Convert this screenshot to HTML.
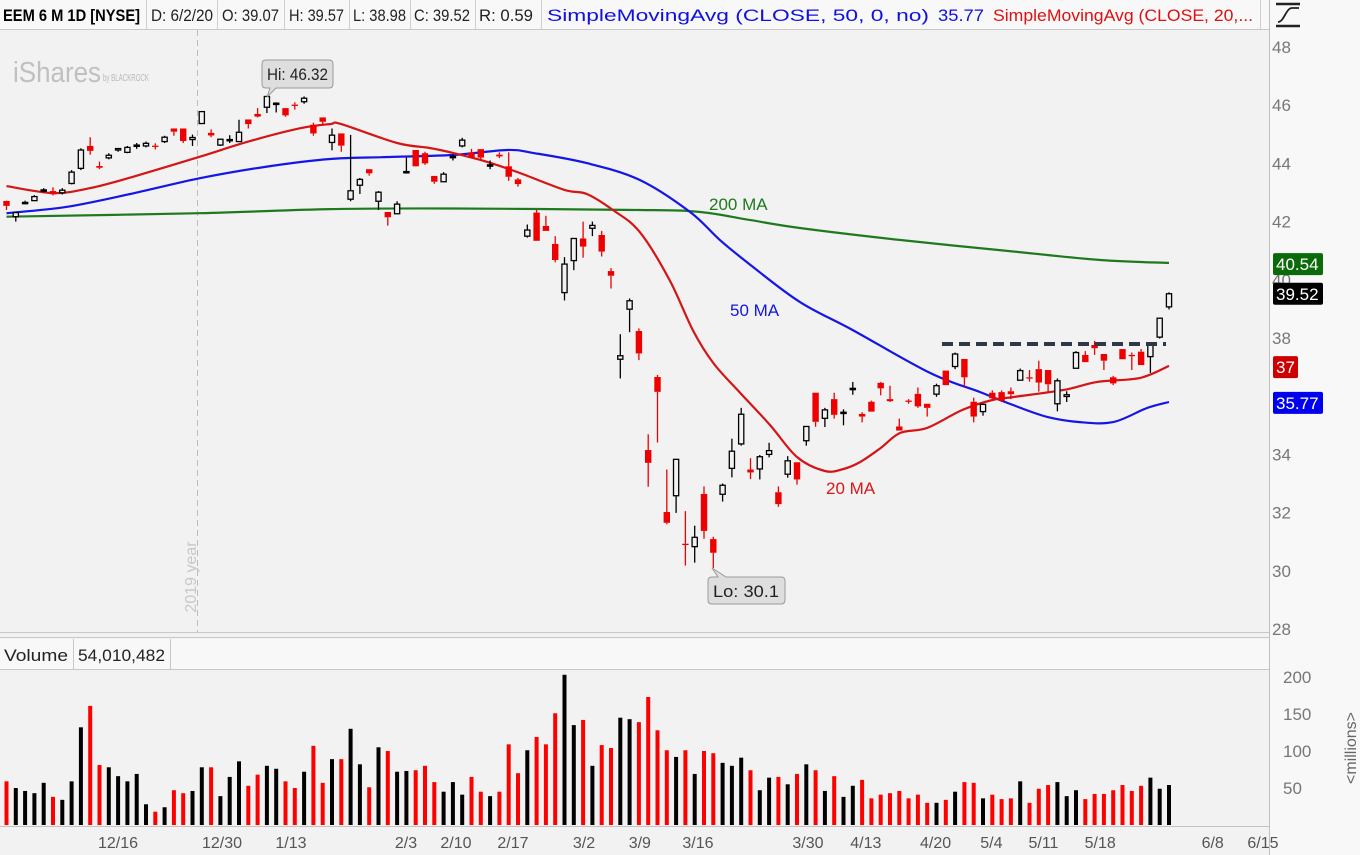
<!DOCTYPE html>
<html><head><meta charset="utf-8"><style>
html,body{margin:0;padding:0;background:#f2f2f2;}
svg{display:block;font-family:"Liberation Sans",Arial,sans-serif;}
</style></head><body>
<svg id="chart" width="1360" height="855" viewBox="0 0 1360 855" xmlns="http://www.w3.org/2000/svg">
<rect x="0" y="0" width="1360" height="855" fill="#f2f2f2"/>
<rect x="1269" y="0" width="91" height="855" fill="#f8f8f8"/>
<g>
<rect x="0" y="0" width="1269" height="29" fill="#f8f8f8"/>
<line x1="0" y1="29.5" x2="1269" y2="29.5" stroke="#c8c8c8"/>
<text x="3" y="21" font-size="17" font-weight="bold" textLength="137" lengthAdjust="spacingAndGlyphs">EEM 6 M 1D [NYSE]</text>
<text x="151" y="21" font-size="17" fill="#222" textLength="62" lengthAdjust="spacingAndGlyphs">D: 6/2/20</text>
<text x="222" y="21" font-size="17" fill="#222" textLength="57" lengthAdjust="spacingAndGlyphs">O: 39.07</text>
<text x="289" y="21" font-size="17" fill="#222" textLength="55" lengthAdjust="spacingAndGlyphs">H: 39.57</text>
<text x="353" y="21" font-size="17" fill="#222" textLength="53" lengthAdjust="spacingAndGlyphs">L: 38.98</text>
<text x="414" y="21" font-size="17" fill="#222" textLength="56" lengthAdjust="spacingAndGlyphs">C: 39.52</text>
<text x="479" y="21" font-size="17" fill="#222" textLength="54" lengthAdjust="spacingAndGlyphs">R: 0.59</text>
<text x="547" y="21" font-size="17" fill="#1010e0" textLength="382" lengthAdjust="spacingAndGlyphs">SimpleMovingAvg (CLOSE, 50, 0, no)</text>
<text x="938" y="21" font-size="17" fill="#1010e0" textLength="46" lengthAdjust="spacingAndGlyphs">35.77</text>
<text x="993" y="21" font-size="17" fill="#dd1111" textLength="260" lengthAdjust="spacingAndGlyphs">SimpleMovingAvg (CLOSE, 20,...</text>
<g stroke="#d0d0d0"><line x1="146.5" y1="0" x2="146.5" y2="29"/><line x1="217.5" y1="0" x2="217.5" y2="29"/><line x1="284.5" y1="0" x2="284.5" y2="29"/><line x1="349.5" y1="0" x2="349.5" y2="29"/><line x1="410.5" y1="0" x2="410.5" y2="29"/><line x1="475.5" y1="0" x2="475.5" y2="29"/><line x1="541.5" y1="0" x2="541.5" y2="29"/><line x1="1260.5" y1="0" x2="1260.5" y2="29"/></g>
</g>
<g stroke="#222" stroke-width="2.5" fill="none">
<line x1="1276" y1="4" x2="1300" y2="4"/><line x1="1276" y1="26" x2="1300" y2="26"/>
<path d="M1278 22 C1284 22 1286 8 1292 8 L1299 8" stroke-width="1.8"/>
</g>
<line x1="1269.5" y1="0" x2="1269.5" y2="855" stroke="#c0c0c0"/>
<line x1="0" y1="632.5" x2="1269" y2="632.5" stroke="#c8c8c8"/>
<line x1="0" y1="637.5" x2="1269" y2="637.5" stroke="#c8c8c8"/>
<g>
<rect x="0" y="639" width="1269" height="30" fill="#f8f8f8"/>
<line x1="0" y1="669.5" x2="1269" y2="669.5" stroke="#c8c8c8"/>
<line x1="73.5" y1="639" x2="73.5" y2="669" stroke="#c8c8c8"/>
<line x1="170.5" y1="639" x2="170.5" y2="669" stroke="#c8c8c8"/>
<text x="4" y="661" font-size="17" fill="#222" textLength="64" lengthAdjust="spacingAndGlyphs">Volume</text>
<text x="78" y="661" font-size="17" fill="#222" textLength="87" lengthAdjust="spacingAndGlyphs">54,010,482</text>
</g>
<g>
<text x="13" y="82" font-size="29" textLength="88" lengthAdjust="spacingAndGlyphs" fill="#c0c0c0">iShares</text>
<text x="103" y="81" font-size="10" textLength="46" lengthAdjust="spacingAndGlyphs" fill="#b8b8b8">by BLACKROCK</text>
</g>
<line x1="197.5" y1="30" x2="197.5" y2="632" stroke="#bcbcbc" stroke-dasharray="6,4"/>
<text transform="translate(196,577) rotate(-90)" text-anchor="middle" font-size="16" fill="#c8c8c8">2019 year</text>
<g id="priceAxis"></g>
<g id="volAxis"></g>
<g id="xAxis"></g>
<g id="maLines"></g>
<g id="candles"></g>
<g id="volumes"></g>
<line x1="942" y1="344" x2="1166" y2="344" stroke="#2e3846" stroke-width="4" stroke-dasharray="11,6"/>
<text x="709" y="210" font-size="17" fill="#1d7a1d">200 MA</text>
<text x="730" y="316" font-size="17" fill="#1515e0">50 MA</text>
<text x="826" y="494" font-size="17" fill="#e01515">20 MA</text>
<g>
<path d="M266 60 H329 Q333 60 333 64 V84 Q333 88 329 88 H276 L267 97 L270 88 H266 Q262 88 262 84 V64 Q262 60 266 60 Z" fill="#dedede" stroke="#9a9a9a"/>
<text x="267" y="80" font-size="17" fill="#222" textLength="61" lengthAdjust="spacingAndGlyphs">Hi: 46.32</text>
</g>
<g>
<path d="M712 577 H718 L712 568 L726 577 H781 Q785 577 785 581 V600 Q785 604 781 604 H712 Q708 604 708 600 V581 Q708 577 712 577 Z" fill="#dedede" stroke="#9a9a9a"/>
<text x="713" y="597" font-size="17" fill="#222" textLength="66" lengthAdjust="spacingAndGlyphs">Lo: 30.1</text>
</g>
<g id="tags"></g>
<text transform="translate(1356,748) rotate(-90)" text-anchor="middle" font-size="16" fill="#666">&lt;millions&gt;</text>
</svg>
<script>
const opens=[42.71,42.17,42.66,42.72,43.09,43.05,42.99,43.31,43.83,44.60,43.91,44.19,44.46,44.38,44.60,44.60,44.61,44.75,45.20,45.20,44.82,45.37,45.05,44.63,44.80,44.75,45.51,45.70,45.93,46.05,45.90,46.02,46.12,45.33,45.58,44.72,45.03,42.77,43.25,43.80,42.70,42.33,42.27,43.70,44.46,44.35,43.57,43.37,44.22,44.60,44.38,44.49,43.92,44.30,43.90,43.45,41.50,42.31,41.85,41.23,39.56,40.66,41.42,41.77,41.54,40.30,37.27,38.99,38.24,34.15,36.66,32.02,32.58,30.93,30.83,32.64,31.09,32.63,33.52,34.36,33.48,33.50,34.00,32.70,33.32,33.73,34.47,36.12,35.24,35.90,35.43,36.25,35.39,35.81,36.46,35.90,34.96,35.85,36.08,35.74,36.07,36.88,37.02,37.28,35.81,35.47,36.12,36.14,36.17,36.55,36.65,36.93,36.90,35.74,35.99,36.96,37.42,37.76,37.45,36.65,37.62,37.42,37.53,37.36,38.03,39.07];
const highs=[42.72,42.33,42.72,42.91,43.15,43.18,43.15,43.77,44.52,44.90,44.06,44.35,44.51,44.60,44.70,44.75,44.69,44.95,45.20,45.20,44.99,45.78,45.17,44.85,44.97,45.50,45.51,45.90,46.32,46.10,45.90,46.10,46.30,45.40,45.58,45.20,45.03,44.98,43.50,43.80,43.05,42.33,42.70,44.20,44.46,44.40,43.57,43.70,44.30,44.88,44.50,44.49,44.10,44.38,44.38,43.50,41.90,42.40,42.20,41.50,40.78,41.42,42.00,42.00,41.68,40.40,38.13,39.36,38.33,34.69,36.73,33.48,33.83,32.05,31.55,32.90,31.17,33.00,34.54,35.60,33.87,33.98,34.40,32.90,33.94,33.73,34.96,36.12,35.60,36.12,35.55,36.49,35.45,35.85,36.49,36.36,35.23,35.90,36.30,35.74,36.43,36.88,37.50,37.28,35.95,35.72,36.20,36.20,36.30,36.95,36.90,37.22,36.90,36.61,36.17,37.55,37.55,37.90,37.45,36.70,37.62,37.50,37.62,37.76,38.70,39.57];
const lows=[42.40,42.00,42.60,42.72,43.00,42.90,42.93,43.28,43.77,44.30,43.80,44.14,44.40,44.35,44.50,44.55,44.48,44.70,44.95,44.70,44.60,45.37,44.90,44.60,44.70,44.74,45.20,45.58,45.73,45.75,45.60,45.85,46.05,44.95,45.30,44.45,44.40,42.70,42.95,43.58,42.40,41.86,42.27,43.65,43.90,43.95,43.30,43.37,44.10,44.55,44.20,44.10,43.80,44.18,43.40,43.20,41.45,41.34,41.68,40.60,39.29,40.33,40.76,41.50,40.80,39.70,36.61,38.20,37.24,32.89,34.41,31.60,31.99,30.18,30.28,31.10,30.10,32.38,33.21,34.30,33.15,33.14,33.90,32.20,33.20,32.96,34.30,34.95,34.94,35.23,35.00,36.05,35.10,35.47,36.03,35.80,34.82,35.74,35.60,35.30,35.98,36.38,36.93,36.33,35.10,35.33,35.84,35.80,35.90,36.55,36.50,36.16,36.16,35.48,35.80,36.96,37.17,37.42,36.90,36.38,37.27,36.90,37.07,36.80,37.98,38.98];
const closes=[42.54,42.31,42.66,42.86,43.09,42.94,43.08,43.70,44.46,44.43,43.85,44.28,44.51,44.55,44.63,44.69,44.59,44.90,45.09,44.77,44.89,45.78,44.96,44.83,44.82,45.07,45.35,45.61,46.30,46.07,45.65,45.98,46.24,45.03,45.43,44.97,44.61,43.06,43.45,43.66,43.01,42.15,42.60,43.72,43.90,44.00,43.37,43.63,44.24,44.80,44.20,44.20,43.95,44.24,43.54,43.29,41.71,41.34,41.68,40.68,40.54,41.42,41.14,41.87,40.97,40.14,37.39,39.28,37.47,33.71,36.15,31.65,33.83,30.90,31.15,31.37,30.62,32.94,34.11,35.38,33.38,33.92,34.13,32.29,33.78,33.14,34.96,35.12,35.53,35.36,35.45,36.27,35.30,35.47,36.27,35.83,34.82,35.81,35.65,35.60,36.36,36.38,37.45,36.65,35.30,35.72,35.93,35.84,36.07,36.88,36.62,36.47,36.41,36.53,36.05,37.50,37.17,37.65,37.22,36.44,37.27,37.40,37.07,37.76,38.68,39.52];
const volumes=[59,50,46,43,57,38,34,59,132,161,81,78,66,59,69,28,18,24,47,43,46,78,78,39,65,86,53,68,80,76,59,50,72,107,57,89,89,130,82,51,105,100,72,73,74,80,58,45,58,41,65,45,39,45,109,70,101,119,109,151,203,135,142,80,108,104,145,143,139,173,128,101,92,101,69,100,97,84,80,91,74,47,64,65,55,69,82,74,46,66,38,53,61,36,41,43,46,36,41,30,30,34,45,58,57,36,41,35,36,59,30,49,54,58,39,47,35,42,42,47,54,46,53,64,49,54];
const ma20Idx=[0,5,9,13.6,20.8,26,31.6,34.8,36,42,45.5,48,51.7,55.2,60,62.4,65.2,68.1,71.3,73.8,76,78.9,82.1,85,88,90,91.8,94,96.1,99,102.8,106,108.2,113.6,117.3,121.9,125];
const ma20Val=[43.22,42.98,43.15,43.54,44.23,44.75,45.21,45.35,45.35,44.70,44.53,44.36,44.05,43.67,43.09,42.95,42.40,41.64,39.99,38.27,37.14,36.11,35.01,33.91,33.43,33.50,33.74,34.22,34.74,34.91,35.53,35.87,35.97,36.21,36.49,36.63,37.04];
const ma50Idx=[0,6.5,13.6,20.8,28,34.8,41,48,53.8,56.6,62.4,68.1,73.5,76.7,80,85.3,91,99.3,104.7,108.2,111.9,115.4,119,122.6,125];
const ma50Val=[42.29,42.51,42.97,43.49,43.89,44.15,44.22,44.29,44.46,44.36,44.01,43.43,42.33,41.37,40.51,39.24,38.27,36.80,36.14,35.70,35.29,35.11,35.11,35.59,35.80];
const ma200Idx=[0,20.8,34.8,48,68.1,74.6,80,85.3,96,106.8,117.6,125];
const ma200Val=[42.17,42.29,42.43,42.45,42.40,42.33,42.05,41.78,41.37,41.02,40.68,40.58];
const priceTicks=[48,46,44,42,40,38,36,34,32,30,28];
const volTicks=[200,150,100,50];
const dateLabels=["12/16","12/30","1/13","2/3","2/10","2/17","3/2","3/9","3/16","3/30","4/13","4/20","5/4","5/11","5/18","6/8","6/15"];
const dateIdx=[11.99,23.17,30.59,42.96,48.33,54.46,62.1,68.1,74.35,86.18,92.4,99.9,105.9,111.5,117.6,129.7,135.1];
const tagValues=[40.54,39.52,37,35.77];
const tagLabels=["40.54","39.52","37","35.77"];
const tagColors=["#0b6b0b","#000000","#cc0000","#0000ee"];

const NS="http://www.w3.org/2000/svg";
const xOf=i=>6.5+9.3*i;
const yP=p=>47+(48-p)*29.1;
const yV=v=>825-v*0.74;
function mk(tag,attrs,parent){const e=document.createElementNS(NS,tag);for(const k in attrs)e.setAttribute(k,attrs[k]);parent.appendChild(e);return e;}

const pa=document.getElementById('priceAxis');
priceTicks.forEach(t=>{
  if(t===36)return;
  const e=mk('text',{x:1272,y:yP(t)+6,'font-size':17,fill:'#777'},pa);e.textContent=String(t);
  
  
});
const va=document.getElementById('volAxis');
volTicks.forEach(t=>{
  const e=mk('text',{x:1283,y:yV(t)+6,'font-size':17,fill:'#777'},va);e.textContent=String(t);
  
  
});
mk('line',{x1:0,y1:826.5,x2:1269,y2:826.5,stroke:'#c4c4c4'},va);
const xa=document.getElementById('xAxis');
dateLabels.forEach((d,k)=>{
  const e=mk('text',{x:xOf(dateIdx[k]),y:848,'font-size':16,fill:'#555','text-anchor':'middle'},xa);e.textContent=d;
  
  
});
const ml=document.getElementById('maLines');
function line(idx,vals,color,name){
  const P=idx.map((v,k)=>[xOf(v),yP(vals[k])]);
  let d='M'+P[0][0].toFixed(1)+' '+P[0][1].toFixed(1);
  for(let k=0;k<P.length-1;k++){
    const p0=P[Math.max(k-1,0)],p1=P[k],p2=P[k+1],p3=P[Math.min(k+2,P.length-1)];
    const c1=[p1[0]+(p2[0]-p0[0])/6,p1[1]+(p2[1]-p0[1])/6];
    const c2=[p2[0]-(p3[0]-p1[0])/6,p2[1]-(p3[1]-p1[1])/6];
    d+=' C'+c1[0].toFixed(1)+' '+c1[1].toFixed(1)+' '+c2[0].toFixed(1)+' '+c2[1].toFixed(1)+' '+p2[0].toFixed(1)+' '+p2[1].toFixed(1);
  }
  const e=mk('path',{d:d,fill:'none',stroke:color,'stroke-width':2.2,'stroke-linejoin':'round'},ml);
  
  
}
line(ma200Idx,ma200Val,'#1f7a1f','ma200-line');
line(ma50Idx,ma50Val,'#1515e6','ma50-line');
line(ma20Idx,ma20Val,'#d41515','ma20-line');

const cg=document.getElementById('candles');
opens.forEach((o,i)=>{
  const c=closes[i],h=highs[i],l=lows[i];
  const up=c>=o;const col=up?'#000':'#ee0000';
  const x=xOf(i);
  const g=mk('g',{},cg);
  
  
  const top=yP(Math.max(o,c)),bot=yP(Math.min(o,c));
  mk('line',{x1:x,y1:yP(h),x2:x,y2:top,stroke:col,'stroke-width':1.3},g);
  mk('line',{x1:x,y1:bot,x2:x,y2:yP(l),stroke:col,'stroke-width':1.3},g);
  const bh=Math.max(bot-top,1.3);
  if(up){mk('rect',{x:x-2.6,y:top,width:5.2,height:bh,fill:'#f2f2f2',stroke:'#000','stroke-width':1.3},g);}
  else{mk('rect',{x:x-3.2,y:top,width:6.4,height:bh,fill:'#ee0000'},g);}
});
const vg=document.getElementById('volumes');
volumes.forEach((v,i)=>{
  const col=closes[i]>=opens[i]?'#000':'#ff0000';
  const r=mk('rect',{x:xOf(i)-2,y:yV(v),width:4,height:825-yV(v),fill:col},vg);
  
  
});
const tg=document.getElementById('tags');
tagValues.forEach((v,k)=>{
  const w=tagLabels[k].length>2?50:25;
  const g=mk('g',{},tg);
  
  
  mk('rect',{x:1273,y:yP(v)-11,width:w,height:22,rx:2,fill:tagColors[k]},g);
  const t=mk('text',{x:1276,y:yP(v)+6,'font-size':17,fill:'#fff'},g);t.textContent=tagLabels[k];
});
</script>
</body></html>
